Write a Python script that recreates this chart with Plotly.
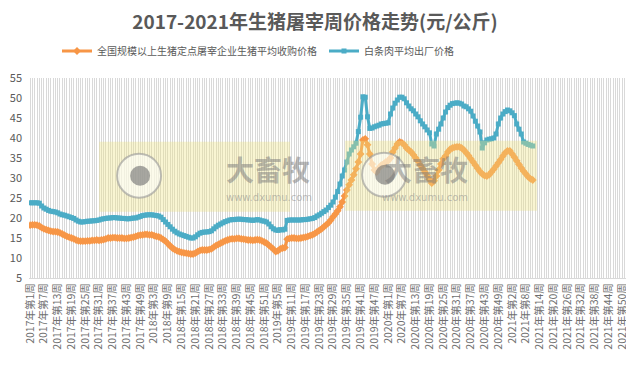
import plotly.graph_objects as go

# ---- categories (weekly) ----
years = [2017, 2018, 2019, 2020, 2021]
weeks_in_year = [52, 52, 52, 53, 52]
categories = [f"{y}年第{w}周" for y, n in zip(years, weeks_in_year) for w in range(1, n + 1)]
label_step = 6
tick_text = [c if i % label_step == 0 else "" for i, c in enumerate(categories)]

# ---- series values (元/公斤) ----
pig_price = [
    18.2, 18.3, 18.3, 18.2, 18.0,
    17.6, 17.3, 17.1, 16.9, 16.7,
    16.6, 16.6, 16.5, 16.3, 16.0, 15.7, 15.4,
    15.2, 15.0, 14.8, 14.5, 14.3, 14.2,
    14.2, 14.2, 14.3, 14.3, 14.4, 14.4, 14.5, 14.4, 14.5, 14.6, 14.8,
    15.0, 15.0, 15.1, 15.1, 15.0, 15.0, 15.0, 14.9, 14.9, 15.0, 15.1, 15.2, 15.4,
    15.6, 15.7, 15.8, 15.9, 15.9, 15.8, 15.8, 15.6, 15.4, 15.3, 15.0,
    14.6, 14.2, 13.6, 13.0, 12.5, 12.1, 11.8, 11.6,
    11.4, 11.3, 11.2, 11.1, 11.0, 11.0, 11.2,
    11.6, 11.9, 12.0, 12.0, 12.0, 12.1, 12.3,
    12.7, 13.1, 13.4, 13.7, 14.0, 14.3, 14.5,
    14.7, 14.8, 14.8, 14.9, 14.9, 14.8, 14.7, 14.6, 14.5,
    14.5, 14.4, 14.5, 14.6, 14.5, 14.3, 14.0, 13.7,
    13.2, 12.7, 12.2, 11.6, 11.8, 12.3, 12.5, 12.6, 14.7,
    14.9, 15.0, 15.0, 14.9, 14.9, 15.0, 15.1, 15.2, 15.4, 15.6,
    15.8, 16.1, 16.5, 16.9, 17.3, 17.8, 18.3,
    18.8, 19.5, 20.3, 21.0, 21.8,
    22.8, 24.0, 25.5, 27.0, 28.3, 29.5, 30.8, 32.3, 34.0, 36.0,
    39.5, 39.8, 38.3, 36.0, 33.5, 32.0, 31.5, 32.5, 33.2, 33.5, 34.0, 34.3,
    35.0, 36.5, 37.5, 38.5, 39.0, 38.8, 38.3, 37.5, 37.0, 36.5,
    35.8, 35.0, 34.2, 33.2, 32.4, 31.5, 30.6, 29.6, 28.7, 29.3,
    30.5, 32.0, 33.5, 34.8, 35.5, 36.5, 37.2, 37.5, 37.7, 37.8, 37.8,
    37.5, 37.0, 36.3, 35.6, 34.8, 34.0, 33.2, 32.4, 31.6, 31.0, 30.6, 30.5,
    30.8, 31.5, 32.2, 33.0, 33.8, 34.6, 35.5, 36.3, 36.8, 36.8,
    36.0, 35.2, 34.3, 33.4, 32.5, 31.7, 31.0, 30.3, 29.8, 29.5,
]

pork_price = [
    23.8, 23.8, 23.8, 23.8, 23.7,
    23.0, 22.5, 22.2, 21.9,
    21.7, 21.6, 21.5, 21.3,
    21.0, 20.8, 20.7, 20.5, 20.3, 20.1, 19.9,
    19.5, 19.2, 19.0, 19.0,
    19.1, 19.2, 19.2, 19.3, 19.3, 19.4, 19.5,
    19.7, 19.8, 19.9, 20.0, 20.0, 20.1, 20.1, 20.0, 20.0, 19.9, 19.9, 19.8, 19.8, 19.9, 20.0, 20.0,
    20.2, 20.4, 20.6, 20.7, 20.8, 20.8, 20.8, 20.7, 20.6, 20.5, 20.2,
    19.6, 19.0, 18.4, 17.8, 17.2, 16.7, 16.3, 16.0,
    15.8, 15.6, 15.4, 15.2, 15.0, 15.0, 15.3,
    15.8, 16.2, 16.4, 16.5, 16.5, 16.6, 16.8,
    17.3, 17.8, 18.2, 18.5, 18.8, 19.1, 19.3,
    19.5, 19.6, 19.6, 19.7, 19.7, 19.7, 19.6, 19.6, 19.5,
    19.5, 19.4, 19.5, 19.6, 19.5, 19.3, 19.2, 19.0,
    18.5, 17.8, 17.3, 17.0, 16.9, 17.1, 17.0, 17.2, 19.4,
    19.5, 19.5, 19.5, 19.5, 19.5, 19.5, 19.6, 19.6, 19.7, 19.8,
    19.9, 20.1, 20.5, 20.8, 21.2, 21.6, 22.0,
    22.6, 23.2, 24.0, 25.2, 26.6, 28.5,
    30.5, 32.0, 34.0, 36.0, 37.0, 37.8, 38.7,
    41.6, 45.2, 50.3, 50.2, 45.3, 42.4,
    42.5, 42.8, 43.0, 43.2, 43.5, 43.6, 43.7, 43.8,
    46.0, 47.5, 48.7, 49.5, 50.2, 50.2, 49.8, 48.8, 48.0, 47.3,
    46.8, 46.0, 45.3, 44.3, 43.5, 42.8, 42.0, 41.3, 38.5, 38.0,
    41.0, 42.2, 43.5, 45.0, 46.5, 47.6, 48.2, 48.6, 48.7, 48.8, 48.7, 48.5, 48.0,
    47.8, 47.3, 46.7, 45.5, 44.2, 43.0, 41.5, 37.5, 38.8, 39.5,
    39.7, 39.8, 40.0, 41.0, 43.5, 45.0, 46.0, 46.6, 47.0, 46.8,
    46.3, 45.6, 43.5, 42.2, 41.0, 39.0, 38.7, 38.4, 38.2, 38.0,
]

series_names = ["全国规模以上生猪定点屠宰企业生猪平均收购价格", "白条肉平均出厂价格"]
title_text = "2017-2021年生猪屠宰周价格走势(元/公斤)"

FONT = "Noto Sans CJK SC"
ORANGE = "#F79646"
TEAL = "#4BACC6"
GRAY = "#595959"

# The page body has an 8px default margin; size the figure so it fills the window.
OFF = 8
W, H = 634 - OFF, 372 - OFF
# plot area in page pixels: x 28.9..628, y 78.3..278.3
L = 28.9 - OFF
R = W - (628 - OFF)
T = 78.3 - OFF
B = H - (278.3 - OFF)

fig = go.Figure()
fig.add_trace(go.Scatter(
    x=categories[:len(pig_price)], y=pig_price, name=series_names[0],
    mode="lines+markers",
    line=dict(color=ORANGE, width=3),
    marker=dict(symbol="diamond", size=6, color=ORANGE),
))
fig.add_trace(go.Scatter(
    x=categories[:len(pork_price)], y=pork_price, name=series_names[1],
    mode="lines+markers",
    line=dict(color=TEAL, width=3),
    marker=dict(symbol="square", size=5, color=TEAL),
))

# watermark (decorative), positioned in page pixels
PW = W - L - R
PH = H - T - B


def px_x(p):
    return (p - OFF - L) / PW


def px_y(p):
    return (H - B - (p - OFF)) / PH


shapes = []
annotations = []
for (rx0, rx1, ry0, ry1, cx, cy, tx) in [(99, 290, 142, 212, 139, 176, 224),
                                           (345, 537, 141, 211, 384, 175, 470)]:
    shapes.append(dict(type="rect", xref="paper", yref="paper", layer="above",
                       x0=px_x(rx0), x1=px_x(rx1), y0=px_y(ry1), y1=px_y(ry0),
                       fillcolor="rgba(238,226,130,0.36)", line=dict(width=0)))
    shapes.append(dict(type="circle", xref="paper", yref="paper", layer="above",
                       x0=px_x(cx - 22), x1=px_x(cx + 22), y0=px_y(cy + 22), y1=px_y(cy - 22),
                       fillcolor="rgba(255,255,255,0.55)",
                       line=dict(color="rgba(150,150,150,0.6)", width=2)))
    shapes.append(dict(type="circle", xref="paper", yref="paper", layer="above",
                       x0=px_x(cx - 9), x1=px_x(cx + 11), y0=px_y(cy + 10), y1=px_y(cy - 10),
                       fillcolor="rgba(110,110,110,0.6)", line=dict(width=0)))
    annotations.append(dict(xref="paper", yref="paper", x=px_x(tx), y=px_y(169),
                            text="<b>大畜牧</b>", showarrow=False,
                            font=dict(family=FONT, size=28, color="rgba(120,120,120,0.5)")))
    annotations.append(dict(xref="paper", yref="paper", x=px_x(tx), y=px_y(197.5),
                            text="www.dxumu.com", showarrow=False,
                            font=dict(family="DejaVu Sans", size=10, color="rgba(140,140,140,0.55)")))

fig.update_layout(
    width=W, height=H,
    margin=dict(l=L, r=R, t=T, b=B, autoexpand=False),
    paper_bgcolor="white", plot_bgcolor="white",
    title=dict(text="<b>" + title_text + "</b>", x=(315 - OFF) / W, xanchor="center",
               xref="container", yref="container",
               y=1 - (22 - OFF) / H, yanchor="middle", automargin=False,
               font=dict(family=FONT, size=19, color=GRAY)),
    legend=dict(orientation="h", xref="container", yref="container",
                x=(57 - OFF) / W, xanchor="left", y=1 - (51 - OFF) / H, yanchor="middle",
                font=dict(family=FONT, size=10, color=GRAY), itemwidth=30,
                entrywidth=222,
                bgcolor="rgba(0,0,0,0)"),
    font=dict(family=FONT, color=GRAY),
    shapes=shapes, annotations=annotations,
    showlegend=True,
)
fig.update_xaxes(
    type="category", categoryorder="array", categoryarray=categories,
    range=[-0.5, len(categories) - 0.5], automargin=False,
    tickmode="array", tickvals=categories, ticktext=tick_text,
    tickangle=-90, tickfont=dict(family=FONT, size=10.5, color="#6f6f6f"),
    showgrid=True, gridcolor="#d9d9d9", gridwidth=1,
    showline=True, linecolor="#d9d9d9", ticks="",
)
fig.update_yaxes(
    range=[5, 55], dtick=5, showgrid=False, zeroline=False, automargin=False,
    ticklabelstandoff=6,
    tickfont=dict(family=FONT, size=11, color=GRAY), ticks="",
)

fig.write_html("out.html")
